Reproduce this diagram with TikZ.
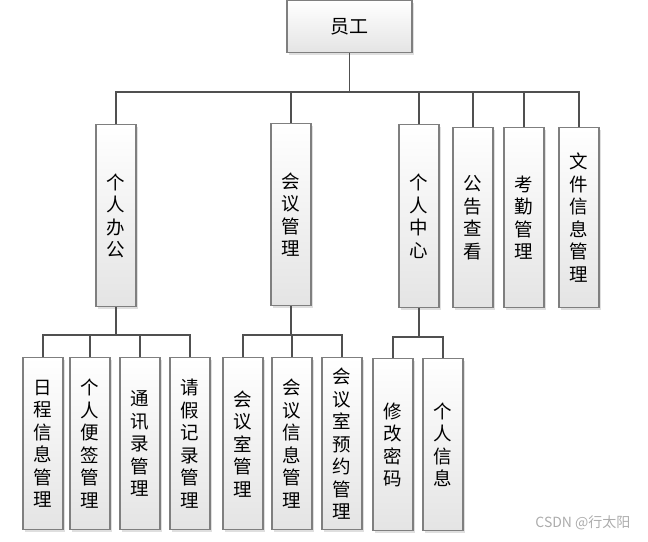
\documentclass[tikz,border=0pt]{standalone}
\usepackage{fontspec}
\setmainfont{Noto Sans CJK SC}
\usetikzlibrary{positioning, shadows}
\definecolor{boxline}{HTML}{7F7F7F}
\definecolor{boxshade}{HTML}{E4E4E4}
\definecolor{linkgray}{HTML}{505050}
\tikzset{
  % module boxes (vertical text, one character per line)
  module/.style={
    rectangle, draw=boxline, line width=1.4pt,
    top color=white, bottom color=boxshade,
    minimum width=40pt, inner sep=0pt, anchor=north, align=center,
    font=\fontsize{18.5}{22.5}\selectfont,
    drop shadow={shadow xshift=2pt, shadow yshift=-2pt, opacity=0.25},
  },
  % tree connectors
  link/.style={draw=linkgray, line width=1.8pt},
  watermark/.style={font=\fontsize{14}{16}\selectfont, text=gray!65},
}

\begin{document}
\begin{tikzpicture}[x=1pt, y=-1pt]
  \useasboundingbox (0,0) rectangle (648,541);

  % root
  \node[module, minimum width=125pt, minimum height=52pt,
    font=\fontsize{19}{22}\selectfont] (root) at (349.5,0) {员工};

  % second level
  \node[module, minimum height=182pt] (bangong)  at (116,124) {个\\人\\办\\公};
  \node[module, minimum height=182pt] (huiyi)    at (291,123) {会\\议\\管\\理};
  \node[module, minimum height=183pt] (zhongxin) at (419,124) {个\\人\\中\\心};
  \node[module, minimum height=180pt] (gonggao)  at (473,127) {公\\告\\查\\看};
  \node[module, minimum height=180pt] (kaoqin)   at (524,127) {考\\勤\\管\\理};
  \node[module, minimum height=180pt] (wenjian)  at (579,127) {文\\件\\信\\息\\管\\理};

  % third level
  \node[module, minimum height=172pt] (richeng)  at (43,357)  {日\\程\\信\\息\\管\\理};
  \node[module, minimum height=172pt] (bianqian) at (90,357)  {个\\人\\便\\签\\管\\理};
  \node[module, minimum height=172pt] (tongxun)  at (140,357) {通\\讯\\录\\管\\理};
  \node[module, minimum height=172pt] (qingjia)  at (190,357) {请\\假\\记\\录\\管\\理};
  \node[module, minimum height=172pt] (hyshi)    at (243,357) {会\\议\\室\\管\\理};
  \node[module, minimum height=172pt] (hyxinxi)  at (292,357) {会\\议\\信\\息\\管\\理};
  \node[module, minimum height=172pt] (yuyue)    at (342,357) {会\\议\\室\\预\\约\\管\\理};
  \node[module, minimum height=172pt] (mima)     at (393,358) {修\\改\\密\\码};
  \node[module, minimum height=172pt] (xinxi)    at (443,358) {个\\人\\信\\息};

  % connectors
  \coordinate (busroot) at (349.5,92);
  \coordinate (busbg)   at (116,335);
  \coordinate (bushy)   at (291,335);
  \coordinate (buszx)   at (419,337);

  \draw[link] (root.south) -- (busroot);
  \foreach \n in {bangong, huiyi, zhongxin, gonggao, kaoqin, wenjian}
    \draw[link] (busroot) -| (\n.north);

  \draw[link] (bangong.south) -- (busbg);
  \foreach \n in {richeng, bianqian, tongxun, qingjia}
    \draw[link] (busbg) -| (\n.north);

  \draw[link] (huiyi.south) -- (bushy);
  \foreach \n in {hyshi, hyxinxi, yuyue}
    \draw[link] (bushy) -| (\n.north);

  \draw[link] (zhongxin.south) -- (buszx);
  \foreach \n in {mima, xinxi}
    \draw[link] (buszx) -| (\n.north);

  \node[watermark, anchor=east] (mark) at (634,523) {CSDN @行太阳};
\end{tikzpicture}
\end{document}
